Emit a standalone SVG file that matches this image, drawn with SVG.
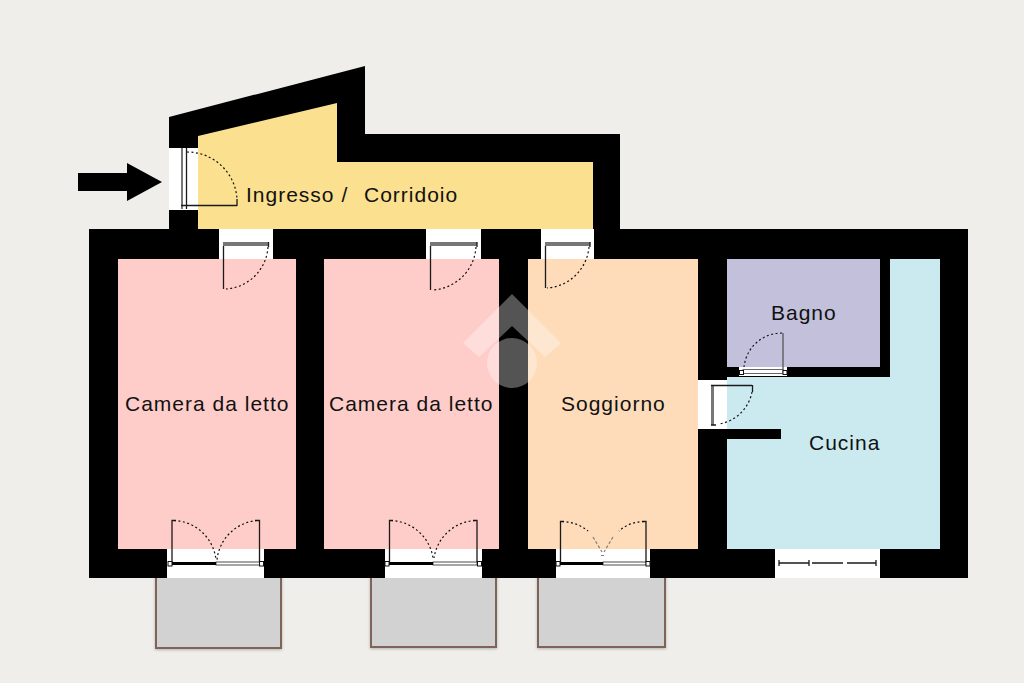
<svg xmlns="http://www.w3.org/2000/svg" width="1024" height="683" viewBox="0 0 1024 683">
<defs>
<filter id="soft" x="-10%" y="-10%" width="120%" height="120%"><feDropShadow dx="0" dy="1" stdDeviation="1.500" flood-color="#000" flood-opacity=".25"/></filter>
</defs>
<style>
.lbl{font-family:"Liberation Sans",Arial,sans-serif;font-size:21px;letter-spacing:1px;fill:#111}
.w{fill:#000}
.o{fill:#fff}
.l{fill:none;stroke:#1a1a1a;stroke-width:1.3}
.g{fill:#777}
.a{fill:none;stroke:#111;stroke-width:1.2;stroke-dasharray:2 2.500}
.f{fill:none;stroke:#8a8078;stroke-width:1.2;stroke-dasharray:3 2}
.b{fill:#d2d2d2;stroke:#7d6359;stroke-width:2;filter:url(#soft)}
.s{fill:#fff;stroke:#111;stroke-width:1}
.t{fill:#fff;stroke:#222;stroke-width:.8}
</style>
<rect width="1024" height="683" fill="#efeeeb"/>
<g id="balconies">
<rect class="b" x="156" y="576" width="125" height="72"/>
<rect class="b" x="371" y="576" width="125" height="71"/>
<rect class="b" x="538" y="576" width="127" height="71"/>
</g>
<g id="walls">
<path class="w" d="M169 117L365 66V134H620V229H968V578H89V229H169Z"/>
</g>
<g id="rooms">
<path id="ingresso" fill="#fae08f" d="M198 136L337 103V162H593V229H198Z"/>
<rect id="camera1" fill="#ffcdc9" x="118" y="259" width="178" height="290"/>
<rect id="camera2" fill="#ffcdc9" x="324" y="259" width="175" height="290"/>
<rect id="soggiorno" fill="#fedcba" x="528" y="259" width="170" height="290"/>
<path id="cucina" fill="#cbeaf0" d="M890 259H940V549H727V439H781V429H727V377H890Z"/>
<rect id="bagno" fill="#c2c0da" x="727" y="259" width="153" height="108"/>
</g>
<g id="openings">
<rect class="o" x="169" y="148" width="29" height="62"/>
<rect class="o" x="219" y="229" width="54" height="30"/>
<rect class="o" x="426" y="229" width="55" height="30"/>
<rect class="o" x="541" y="229" width="53" height="30"/>
<rect class="o" x="167" y="549" width="97" height="29"/>
<rect class="o" x="385" y="549" width="97" height="29"/>
<rect class="o" x="556" y="549" width="94" height="29"/>
<rect class="o" x="775" y="549" width="105" height="29"/>
<rect class="o" x="698" y="380" width="29" height="49"/>
<rect class="o" x="739" y="367" width="48" height="9"/>
</g>
<g id="logo" fill="#fff" fill-opacity=".33">
<path d="M512 294L561 343L545 357L512 326L479 357L463 343Z"/>
<circle cx="512" cy="363" r="25"/>
</g>
<g id="doors">
<g id="door-entry">
<rect class="g" x="181" y="148" width="2" height="61"/>
<path class="l" d="M186.500 148V209M181 205.500H237M237 199V206"/>
<path class="a" d="M187 152A50 50 0 0 1 237 199"/>
</g>
<g id="door-1">
<rect class="g" x="223" y="242" width="46" height="4"/>
<path class="l" d="M223.500 246V289M268.500 242V247"/>
<path class="a" d="M268 247A45 45 0 0 1 226 289"/>
</g>
<g id="door-2">
<rect class="g" x="430" y="242" width="47" height="4"/>
<path class="l" d="M430.500 246V290M477 242V247"/>
<path class="a" d="M476 247A46 46 0 0 1 432 290"/>
</g>
<g id="door-3">
<rect class="g" x="545" y="242" width="45" height="4"/>
<path class="l" d="M545.500 246V288M590 242V247"/>
<path class="a" d="M589 247A45 45 0 0 1 547 288"/>
</g>
<g id="door-bagno">
<rect x="743" y="369.500" width="40" height="4" fill="#fff" stroke="#666"/>
<rect class="s" x="739.500" y="370.500" width="4" height="4"/>
<rect class="s" x="783" y="370.500" width="4" height="4"/>
<path d="M783 333V370" fill="none" stroke="#555" stroke-width="1.300"/>
<path class="a" d="M782 333A38 38 0 0 0 744 367"/>
</g>
<g id="door-cucina">
<rect x="711" y="385" width="3" height="40" fill="#777"/>
<path class="l" d="M711 385.500H752M752.500 385V392M711 425H716"/>
<path class="a" d="M752 392A40 40 0 0 1 719 424"/>
</g>
<g id="french-1">
<path class="l" d="M172 564V520.500H176M259.500 564V520.500H255"/>
<rect class="t" x="216" y="562" width="43.500" height="3"/>
<rect x="172" y="562" width="44" height="3" fill="#000"/>
<path class="a" d="M174 520.500A44 44 0 0 1 216 560"/>
<path class="a" d="M257 520.500A44 44 0 0 0 217 560"/>
<rect class="s" x="168" y="561.500" width="4" height="4.500"/>
<rect class="s" x="259.500" y="561.500" width="4" height="4.500"/>
</g>
<g id="french-2">
<path class="l" d="M389.500 564V520.500H393M477 564V520.500H473"/>
<rect class="t" x="433" y="562" width="44" height="3"/>
<rect x="389" y="562" width="44" height="3" fill="#000"/>
<path class="a" d="M391 520.500A44 44 0 0 1 433 558"/>
<path class="a" d="M475 520.500A44 44 0 0 0 434 558"/>
<rect class="s" x="385" y="561.500" width="4" height="4.500"/>
<rect class="s" x="477.500" y="561.500" width="4" height="4.500"/>
</g>
<g id="french-3">
<path class="l" d="M560.500 564V521.500H564M646 564V521.500H642"/>
<rect class="t" x="603" y="562" width="43" height="3"/>
<rect x="560" y="562" width="43" height="3" fill="#000"/>
<path class="a" d="M562 521.500Q577 522 588 531"/>
<path class="a" d="M644 521.500Q629 522 619 531"/>
<path class="f" d="M593 537L602 552M613 537L604 552M601 555.500H605"/>
<rect class="s" x="556" y="561.500" width="4" height="4.500"/>
<rect class="s" x="646" y="561.500" width="4" height="4.500"/>
</g>
<g id="window-cucina">
<path class="l" d="M779 563H809M812 563H843M847 563H876M779 560V566M809 560V566M876 560V566"/>
</g>
</g>
<path id="entry-arrow" class="w" d="M78 173H127V163L162 182L127 201V191H78Z"/>
<g id="labels">
<text class="lbl" x="246" y="202">Ingresso /</text>
<text class="lbl" x="364" y="202">Corridoio</text>
<text class="lbl" x="125" y="411">Camera da letto</text>
<text class="lbl" x="329" y="411">Camera da letto</text>
<text class="lbl" x="561" y="411">Soggiorno</text>
<text class="lbl" x="771" y="320">Bagno</text>
<text class="lbl" x="809" y="450">Cucina</text>
</g>
</svg>
